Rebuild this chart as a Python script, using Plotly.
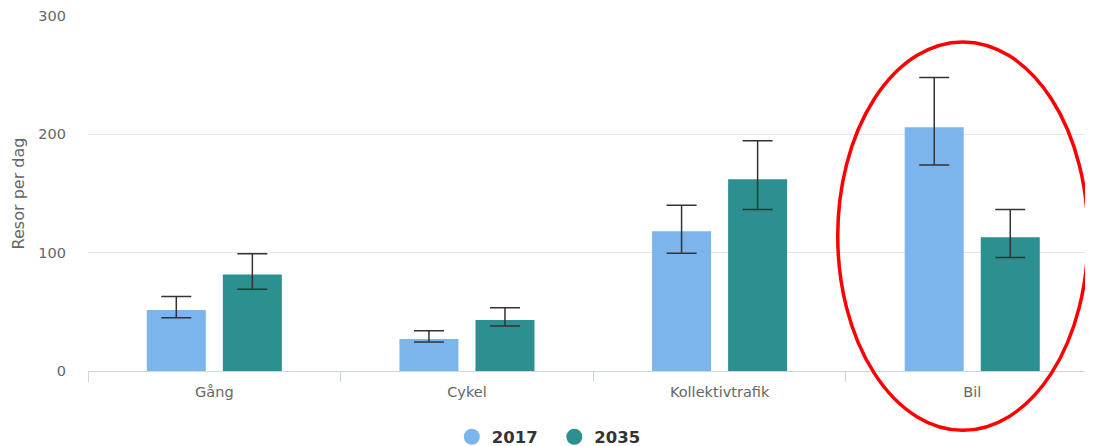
import plotly.graph_objects as go

categories = ["Gång", "Cykel", "Kollektivtrafik", "Bil"]
series_names = ["2017", "2035"]
values_2017 = [51.5, 27, 118, 206]
err_hi_2017 = [63, 34, 140, 248]
err_lo_2017 = [45, 24.5, 99.5, 174]
values_2035 = [81.5, 43, 162, 113]
err_hi_2035 = [99, 53.5, 194.5, 136.5]
err_lo_2035 = [69, 38, 136.5, 96]
colors = ["#7cb5ec", "#2b908f"]
y_ticks = [0, 100, 200, 300]

# page body has an 8px default margin, so the figure is shifted by 8px
W, H = 1085, 438
ml, mr, mt, mb = 80, 0, 8, 75

FONT = "DejaVu Sans, Verdana, sans-serif"

fig = go.Figure()
for name, vals, hi, lo, col in [
    (series_names[0], values_2017, err_hi_2017, err_lo_2017, colors[0]),
    (series_names[1], values_2035, err_hi_2035, err_lo_2035, colors[1]),
]:
    fig.add_trace(go.Bar(
        x=categories, y=vals, name=name, marker=dict(color=col, line=dict(width=0)),
        error_y=dict(type="data", symmetric=False,
                     array=[h - v for h, v in zip(hi, vals)],
                     arrayminus=[v - l for v, l in zip(vals, lo)],
                     color="#333333", thickness=1.5, width=15),
        showlegend=False,
    ))
    fig.add_trace(go.Scatter(
        x=[None], y=[None], mode="markers", name=name,
        marker=dict(symbol="circle", size=17, color=col),
    ))

fig.update_layout(
    width=W, height=H,
    margin=dict(l=ml, r=mr, t=mt, b=mb, autoexpand=False),
    paper_bgcolor="white", plot_bgcolor="white",
    barmode="group", bargap=0.398, bargroupgap=0.224,
    font=dict(family=FONT, color="#666666", size=14.5),
    legend=dict(orientation="h", x=0.464, xanchor="center", y=-0.186, yanchor="middle",
                font=dict(size=16.5, color="#333333", weight="bold", family=FONT),
                itemwidth=30, tracegroupgap=0, itemsizing="trace", entrywidth=57.5),
    xaxis=dict(range=[-0.5, 3.478], showgrid=False, showline=True, linecolor="#ccd6eb",
               linewidth=1, ticks="outside", tickson="boundaries", ticklen=10,
               tickcolor="#ccd6eb", tickfont=dict(size=14.5, color="#666666"),
               ticklabelstandoff=8, automargin=False),
    yaxis=dict(range=[0, 300], tickvals=y_ticks, showgrid=True, gridcolor="#e6e6e6",
               zeroline=False, showline=False, ticks="",
               tickfont=dict(size=14.5, color="#666666"), ticklabelstandoff=21,
               automargin=False,
               title=dict(text="Resor per dag", font=dict(size=16, color="#666666"), standoff=9)),
    shapes=[dict(type="circle", xref="paper", yref="paper",
                 x0=0.746, x1=0.995, y0=-0.167, y1=0.927,
                 line=dict(color="#ff0000", width=3.5), layer="above")],
)

fig.write_html("out.html")
